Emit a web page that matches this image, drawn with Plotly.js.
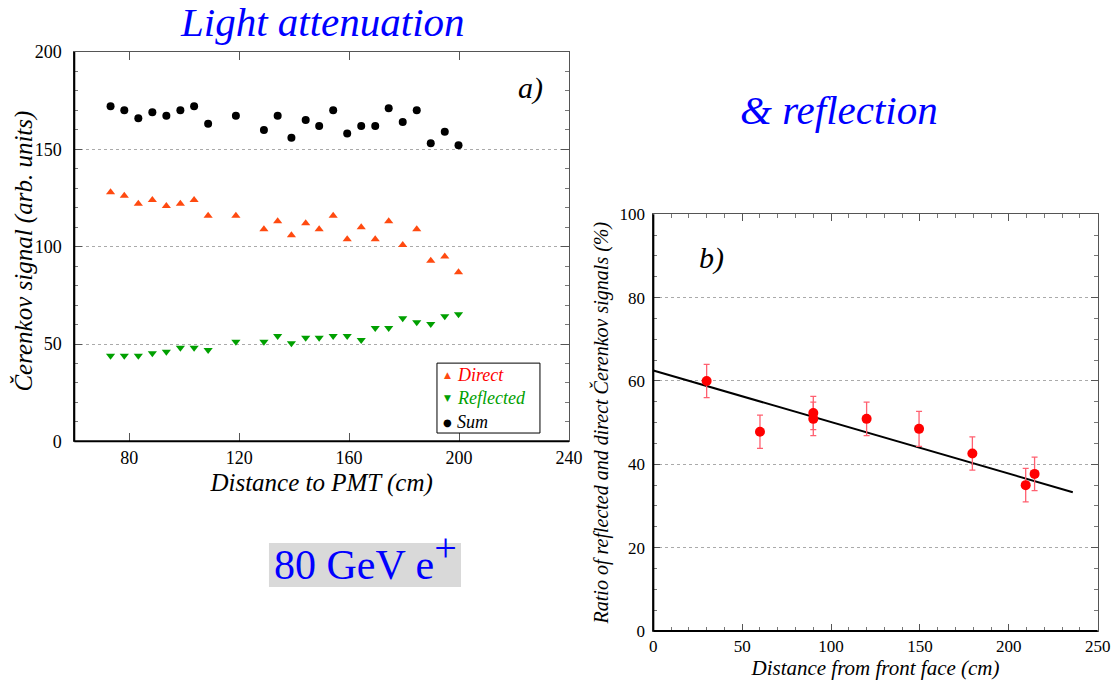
<!DOCTYPE html>
<html>
<head>
<meta charset="utf-8">
<script src="https://cdn.plot.ly/plotly-3.0.1.min.js"></script>
<style>html,body{margin:0;padding:0;background:#fff;}#chart{width:1117px;height:680px;}</style>
</head>
<body>
<div id="chart"></div>
<script>
// ---- Panel a) : signal vs distance to PMT ----
const distPMT = [73.2, 78.2, 83.3, 88.4, 93.5, 98.6, 103.6, 108.7, 118.8, 129.0, 134.0, 139.0, 144.2, 149.1, 154.2, 159.3, 164.4, 169.5, 174.4, 179.5, 184.6, 189.7, 194.8, 199.8];
const directSig = [128.0, 126.1, 122.0, 124.0, 120.9, 122.0, 124.0, 115.9, 115.9, 108.9, 113.1, 105.9, 112.0, 108.9, 115.9, 103.8, 110.0, 103.8, 113.1, 100.9, 108.9, 92.8, 94.9, 86.8];
const reflectedSig = [44.0, 44.0, 44.0, 45.2, 46.0, 48.1, 48.1, 46.9, 51.2, 51.2, 54.1, 50.4, 53.2, 53.2, 54.1, 54.1, 52.1, 58.2, 58.2, 63.2, 61.2, 60.3, 64.2, 65.3];
const sumSig = [172.1, 170.1, 166.0, 169.1, 167.2, 170.1, 172.1, 163.1, 167.2, 160.0, 167.2, 156.0, 165.1, 162.0, 170.1, 158.1, 162.0, 162.0, 171.1, 164.1, 170.1, 153.1, 159.1, 152.1];
const seriesNames = ['Direct', 'Reflected', 'Sum'];
const seriesColors = ['#ff4a10', '#00a000', '#000000'];
const legendTextColors = ['#ff0000', '#00a000', '#000000'];
const legendGlyphs = ['▲', '▼', '●'];

// ---- Panel b) : ratio vs distance from front face ----
const distFront = [30, 60, 90, 90, 120, 149.5, 179.5, 209.5, 214.5];
const ratio = [60.0, 47.8, 52.3, 50.9, 50.9, 48.5, 42.6, 35.0, 37.7];
const ratioErr = [4, 4, 4, 4, 4, 4.2, 4, 4, 4];
const fitX = [0, 236];
const fitY = [62.5, 33.3];

const serif = 'Liberation Serif';

const traces = [
  {x: distPMT, y: directSig, type: 'scatter', mode: 'markers', xaxis: 'x', yaxis: 'y', name: seriesNames[0],
   marker: {symbol: 'triangle-up', size: 8, color: seriesColors[0]}},
  {x: distPMT, y: reflectedSig, type: 'scatter', mode: 'markers', xaxis: 'x', yaxis: 'y', name: seriesNames[1],
   marker: {symbol: 'triangle-down', size: 8, color: seriesColors[1]}},
  {x: distPMT, y: sumSig, type: 'scatter', mode: 'markers', xaxis: 'x', yaxis: 'y', name: seriesNames[2],
   marker: {symbol: 'circle', size: 8, color: seriesColors[2]}},
  {x: fitX, y: fitY, type: 'scatter', mode: 'lines', xaxis: 'x2', yaxis: 'y2', name: 'fit',
   line: {color: '#000', width: 2}},
  {x: distFront, y: ratio, type: 'scatter', mode: 'markers', xaxis: 'x2', yaxis: 'y2', name: 'ratio',
   marker: {symbol: 'circle', size: 10, color: '#ff0000'},
   error_y: {type: 'data', array: ratioErr, visible: true, color: '#ff6070', thickness: 1.3, width: 3}}
];

const tickFontL = {family: serif, size: 18, color: '#000'};
const tickFontR = {family: serif, size: 17, color: '#000'};

// custom compact legend (box + rows) for panel a)
const legendRowsY = [0.4485, 0.4140, 0.3794];
const legendAnn = [];
seriesNames.forEach((n, i) => {
  legendAnn.push({text: legendGlyphs[i], xref: 'paper', yref: 'paper', x: 0.4008, y: legendRowsY[i],
    xanchor: 'center', yanchor: 'middle', showarrow: false,
    font: {family: 'DejaVu Sans', size: i === 2 ? 10 : 9, color: seriesColors[i]}});
  legendAnn.push({text: '<i>' + n + '</i>', xref: 'paper', yref: 'paper', x: 0.4075, y: legendRowsY[i],
    xanchor: 'left', yanchor: 'middle', showarrow: false,
    font: {family: serif, size: 18, color: legendTextColors[i]}});
});

const layout = {
  width: 1117, height: 680,
  margin: {l: 0, r: 0, t: 0, b: 0},
  paper_bgcolor: '#fff', plot_bgcolor: '#fff',
  font: {family: serif},
  showlegend: false,
  xaxis: {domain: [0.0665, 0.5094], anchor: 'y', range: [60, 240], tickvals: [80, 120, 160, 200, 240],
          ticks: 'inside', ticklen: 8, tickcolor: '#555', showline: true, linecolor: '#555', linewidth: 1,
          mirror: 'ticks', showgrid: false, zeroline: false, tickfont: tickFontL,
          title: {text: '<i>Distance to PMT (cm)</i>', font: {family: serif, size: 25, color: '#000'}, standoff: 6}},
  yaxis: {domain: [0.3510, 0.9235], anchor: 'x', range: [0, 200], tickvals: [0, 50, 100, 150, 200],
          ticks: 'inside', ticklen: 8, tickcolor: '#555', showline: true, linecolor: '#555', linewidth: 1,
          mirror: 'ticks', showgrid: true, gridcolor: '#aaa', griddash: 'dot', gridwidth: 1, zeroline: false,
          minor: {dtick: 10, ticks: 'inside', ticklen: 4, tickcolor: '#777', showgrid: false},
          tickfont: tickFontL, ticklabelstandoff: 8},
  xaxis2: {domain: [0.5849, 0.9827], anchor: 'y2', range: [0, 250], tickvals: [0, 50, 100, 150, 200, 250],
           ticks: 'inside', ticklen: 7, tickcolor: '#555', showline: true, linecolor: '#555', linewidth: 1,
           mirror: 'ticks', showgrid: false, zeroline: false,
           minor: {dtick: 10, ticks: 'inside', ticklen: 4, tickcolor: '#777', showgrid: false},
           tickfont: tickFontR,
           title: {text: '<i>Distance from front face (cm)</i>', font: {family: serif, size: 21, color: '#000'}, standoff: 6}},
  yaxis2: {domain: [0.0721, 0.6849], anchor: 'x2', range: [0, 100], tickvals: [0, 20, 40, 60, 80, 100],
           ticks: 'inside', ticklen: 7, tickcolor: '#555', showline: true, linecolor: '#555', linewidth: 1,
           mirror: 'ticks', showgrid: true, gridcolor: '#aaa', griddash: 'dot', gridwidth: 1, zeroline: false,
           minor: {dtick: 5, ticks: 'inside', ticklen: 4, tickcolor: '#777', showgrid: false},
           tickfont: tickFontR, ticklabelstandoff: 4,
           title: {text: '<i>Ratio of reflected and direct Čerenkov signals (%)</i>', font: {family: serif, size: 20, color: '#000'}, standoff: 5}},
  shapes: [
    {type: 'line', xref: 'x domain', yref: 'y domain', x0: 0, x1: 0, y0: 0, y1: 1, line: {color: '#000', width: 2}},
    {type: 'line', xref: 'x domain', yref: 'y domain', x0: 0, x1: 1, y0: 0, y1: 0, line: {color: '#000', width: 2}},
    {type: 'line', xref: 'x2 domain', yref: 'y2 domain', x0: 0, x1: 0, y0: 0, y1: 1, line: {color: '#000', width: 2}},
    {type: 'line', xref: 'x2 domain', yref: 'y2 domain', x0: 0, x1: 1, y0: 0, y1: 0, line: {color: '#000', width: 2}},
    // legend frame
    {type: 'rect', xref: 'paper', yref: 'paper', x0: 0.3912, x1: 0.4834, y0: 0.3632, y1: 0.466,
     line: {color: '#000', width: 1}, fillcolor: '#fff', layer: 'above'},
    // grey box behind "80 GeV e+"
    {type: 'rect', xref: 'paper', yref: 'paper', x0: 0.2408, x1: 0.4127, y0: 0.1368, y1: 0.2015,
     line: {width: 0}, fillcolor: '#d9d9d9', layer: 'below'}
  ],
  annotations: [
    {text: '<i>Čerenkov signal (arb. units)</i>', xref: 'paper', yref: 'paper', x: 0.0215, y: 0.630,
     xanchor: 'center', yanchor: 'middle', textangle: -90, showarrow: false,
     font: {family: serif, size: 25, color: '#000'}},
    {text: '<i>Light attenuation</i>', xref: 'paper', yref: 'paper', x: 0.289, y: 0.968, xanchor: 'center', yanchor: 'middle',
     showarrow: false, font: {family: serif, size: 41, color: '#0000ff'}},
    {text: '<i>&amp; reflection</i>', xref: 'paper', yref: 'paper', x: 0.751, y: 0.838, xanchor: 'center', yanchor: 'middle',
     showarrow: false, font: {family: serif, size: 41, color: '#0000ff'}},
    {text: '80 GeV e<sup><span style="font-size:40px">+</span></sup>', xref: 'paper', yref: 'paper', x: 0.3268, y: 0.181,
     xanchor: 'center', yanchor: 'middle', showarrow: false, font: {family: serif, size: 42, color: '#0000ff'}},
    {text: '<i>a)</i>', xref: 'paper', yref: 'paper', x: 0.4745, y: 0.8706, xanchor: 'center', yanchor: 'middle',
     showarrow: false, font: {family: serif, size: 30, color: '#000'}},
    {text: '<i>b)</i>', xref: 'paper', yref: 'paper', x: 0.6374, y: 0.6206, xanchor: 'center', yanchor: 'middle',
     showarrow: false, font: {family: serif, size: 30, color: '#000'}}
  ].concat(legendAnn)
};

Plotly.newPlot('chart', traces, layout, {displayModeBar: false, staticPlot: true});
</script>
</body>
</html>
